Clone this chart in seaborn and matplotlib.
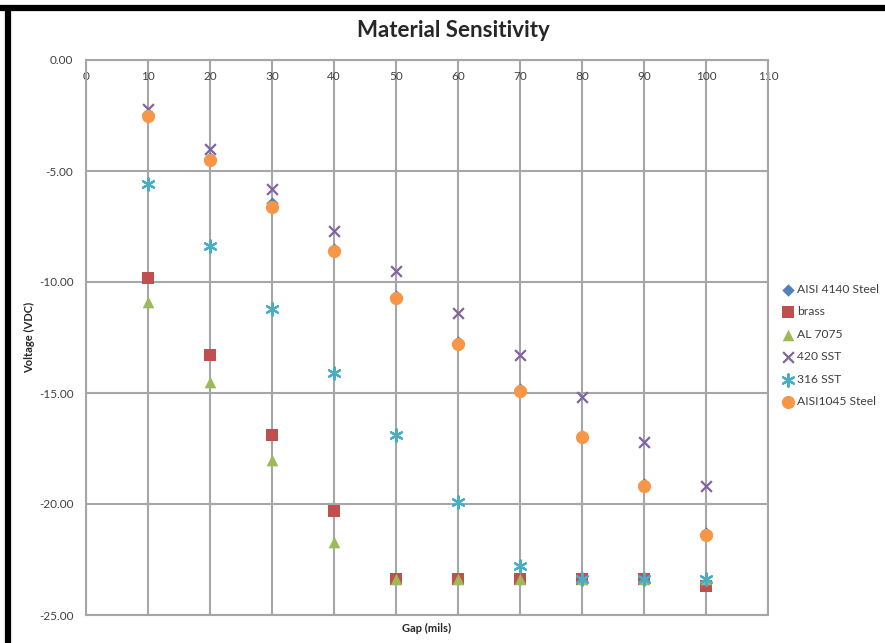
import pandas as pd
import seaborn as sns
import matplotlib.pyplot as plt

# Gap positions (mils)
gap = [10, 20, 30, 40, 50, 60, 70, 80, 90, 100]

# Voltage readings (VDC) per material
aisi_4140 = [-2.45, -4.4, -6.45, -8.5, -10.65, -12.7, -14.8, -16.95, -19.1, -21.3]
brass = [-9.8, -13.3, -16.9, -20.3, -23.4, -23.4, -23.4, -23.4, -23.4, -23.7]
al_7075 = [-10.9, -14.5, -18.0, -21.7, -23.4, -23.4, -23.4, -23.4, -23.4, -23.4]
sst_420 = [-2.2, -4.0, -5.8, -7.7, -9.5, -11.4, -13.3, -15.2, -17.2, -19.2]
sst_316 = [-5.6, -8.4, -11.2, -14.1, -16.9, -19.9, -22.8, -23.4, -23.4, -23.4]
aisi_1045 = [-2.5, -4.5, -6.6, -8.6, -10.7, -12.8, -14.9, -17.0, -19.2, -21.4]

materials = ["AISI 4140 Steel", "brass", "AL 7075", "420 SST", "316 SST", "AISI1045 Steel"]
series = [aisi_4140, brass, al_7075, sst_420, sst_316, aisi_1045]

colors = {"AISI 4140 Steel": "#4F81BD", "brass": "#C0504D", "AL 7075": "#9BBB59",
          "420 SST": "#8064A2", "316 SST": "#4BACC6", "AISI1045 Steel": "#F79646"}
markers = {"AISI 4140 Steel": "D", "brass": "s", "AL 7075": "^",
           "420 SST": "x", "316 SST": (6, 2, 0), "AISI1045 Steel": "o"}
sizes = {"AISI 4140 Steel": 40, "brass": 70, "AL 7075": 70,
         "420 SST": 60, "316 SST": 80, "AISI1045 Steel": 90}

rows = []
for name, vals in zip(materials, series):
    for g, v in zip(gap, vals):
        rows.append({"Gap": g, "Voltage": v, "Material": name})
df = pd.DataFrame(rows)

sns.set_theme(style="white")
plt.rcParams['font.family'] = ['Lato', 'DejaVu Sans']
plt.rcParams['axes.unicode_minus'] = False

fig = plt.figure(figsize=(8.85, 6.43), dpi=100)
ax = fig.add_axes([86 / 885, 1 - 615 / 643, (768 - 86) / 885, (615 - 60) / 643])

for name in materials:
    sub = df[df["Material"] == name]
    sns.scatterplot(data=sub, x="Gap", y="Voltage", color=colors[name], marker=markers[name],
                    s=sizes[name], linewidth=1.6 if name in ("420 SST", "316 SST") else 0,
                    label=name, ax=ax, zorder=3)

ax.set_xlim(0, 110)
ax.set_ylim(-25, 0)
ax.set_xticks(range(0, 111, 10))
ax.set_yticks(range(-25, 1, 5))
ax.set_yticklabels([f"{v:.2f}" for v in range(-25, 1, 5)])
ax.grid(True, color="#A6A6A6", linewidth=1.5)
ax.set_axisbelow(True)
for sp in ax.spines.values():
    sp.set_color("#A6A6A6")
    sp.set_linewidth(1.5)

ax.tick_params(axis="x", top=True, labeltop=True, bottom=False, labelbottom=False,
               direction="in", length=0, pad=-16, labelsize=8.5, labelcolor="#404040")
ax.tick_params(axis="y", length=0, pad=9, labelsize=8.5, labelcolor="#404040")

ax.set_xlabel("Gap (mils)", fontsize=8, fontweight="bold", labelpad=6)
ax.set_ylabel("Voltage (VDC)", fontsize=8, fontweight="bold", labelpad=3)
ax.xaxis.set_label_position("bottom")

fig.suptitle("Material Sensitivity", x=453 / 885, y=1 - 20 / 643, fontsize=16, fontweight="bold")

leg = ax.legend(loc="upper left", bbox_to_anchor=(774 / 885, 1 - 279 / 643),
                bbox_transform=fig.transFigure, frameon=False, fontsize=8.7,
                handletextpad=0.0, labelspacing=0.95, borderaxespad=0, handlelength=1.5)
for t in leg.get_texts():
    t.set_color("#404040")

# black frame along top and left edges
fig.add_artist(plt.Line2D([0, 1], [1 - 8 / 643, 1 - 8 / 643], transform=fig.transFigure,
                          color="black", linewidth=4.5))
fig.add_artist(plt.Line2D([8 / 885, 8 / 885], [0, 1 - 8 / 643], transform=fig.transFigure,
                          color="black", linewidth=4.5))

plt.savefig("out.png", dpi=100)
